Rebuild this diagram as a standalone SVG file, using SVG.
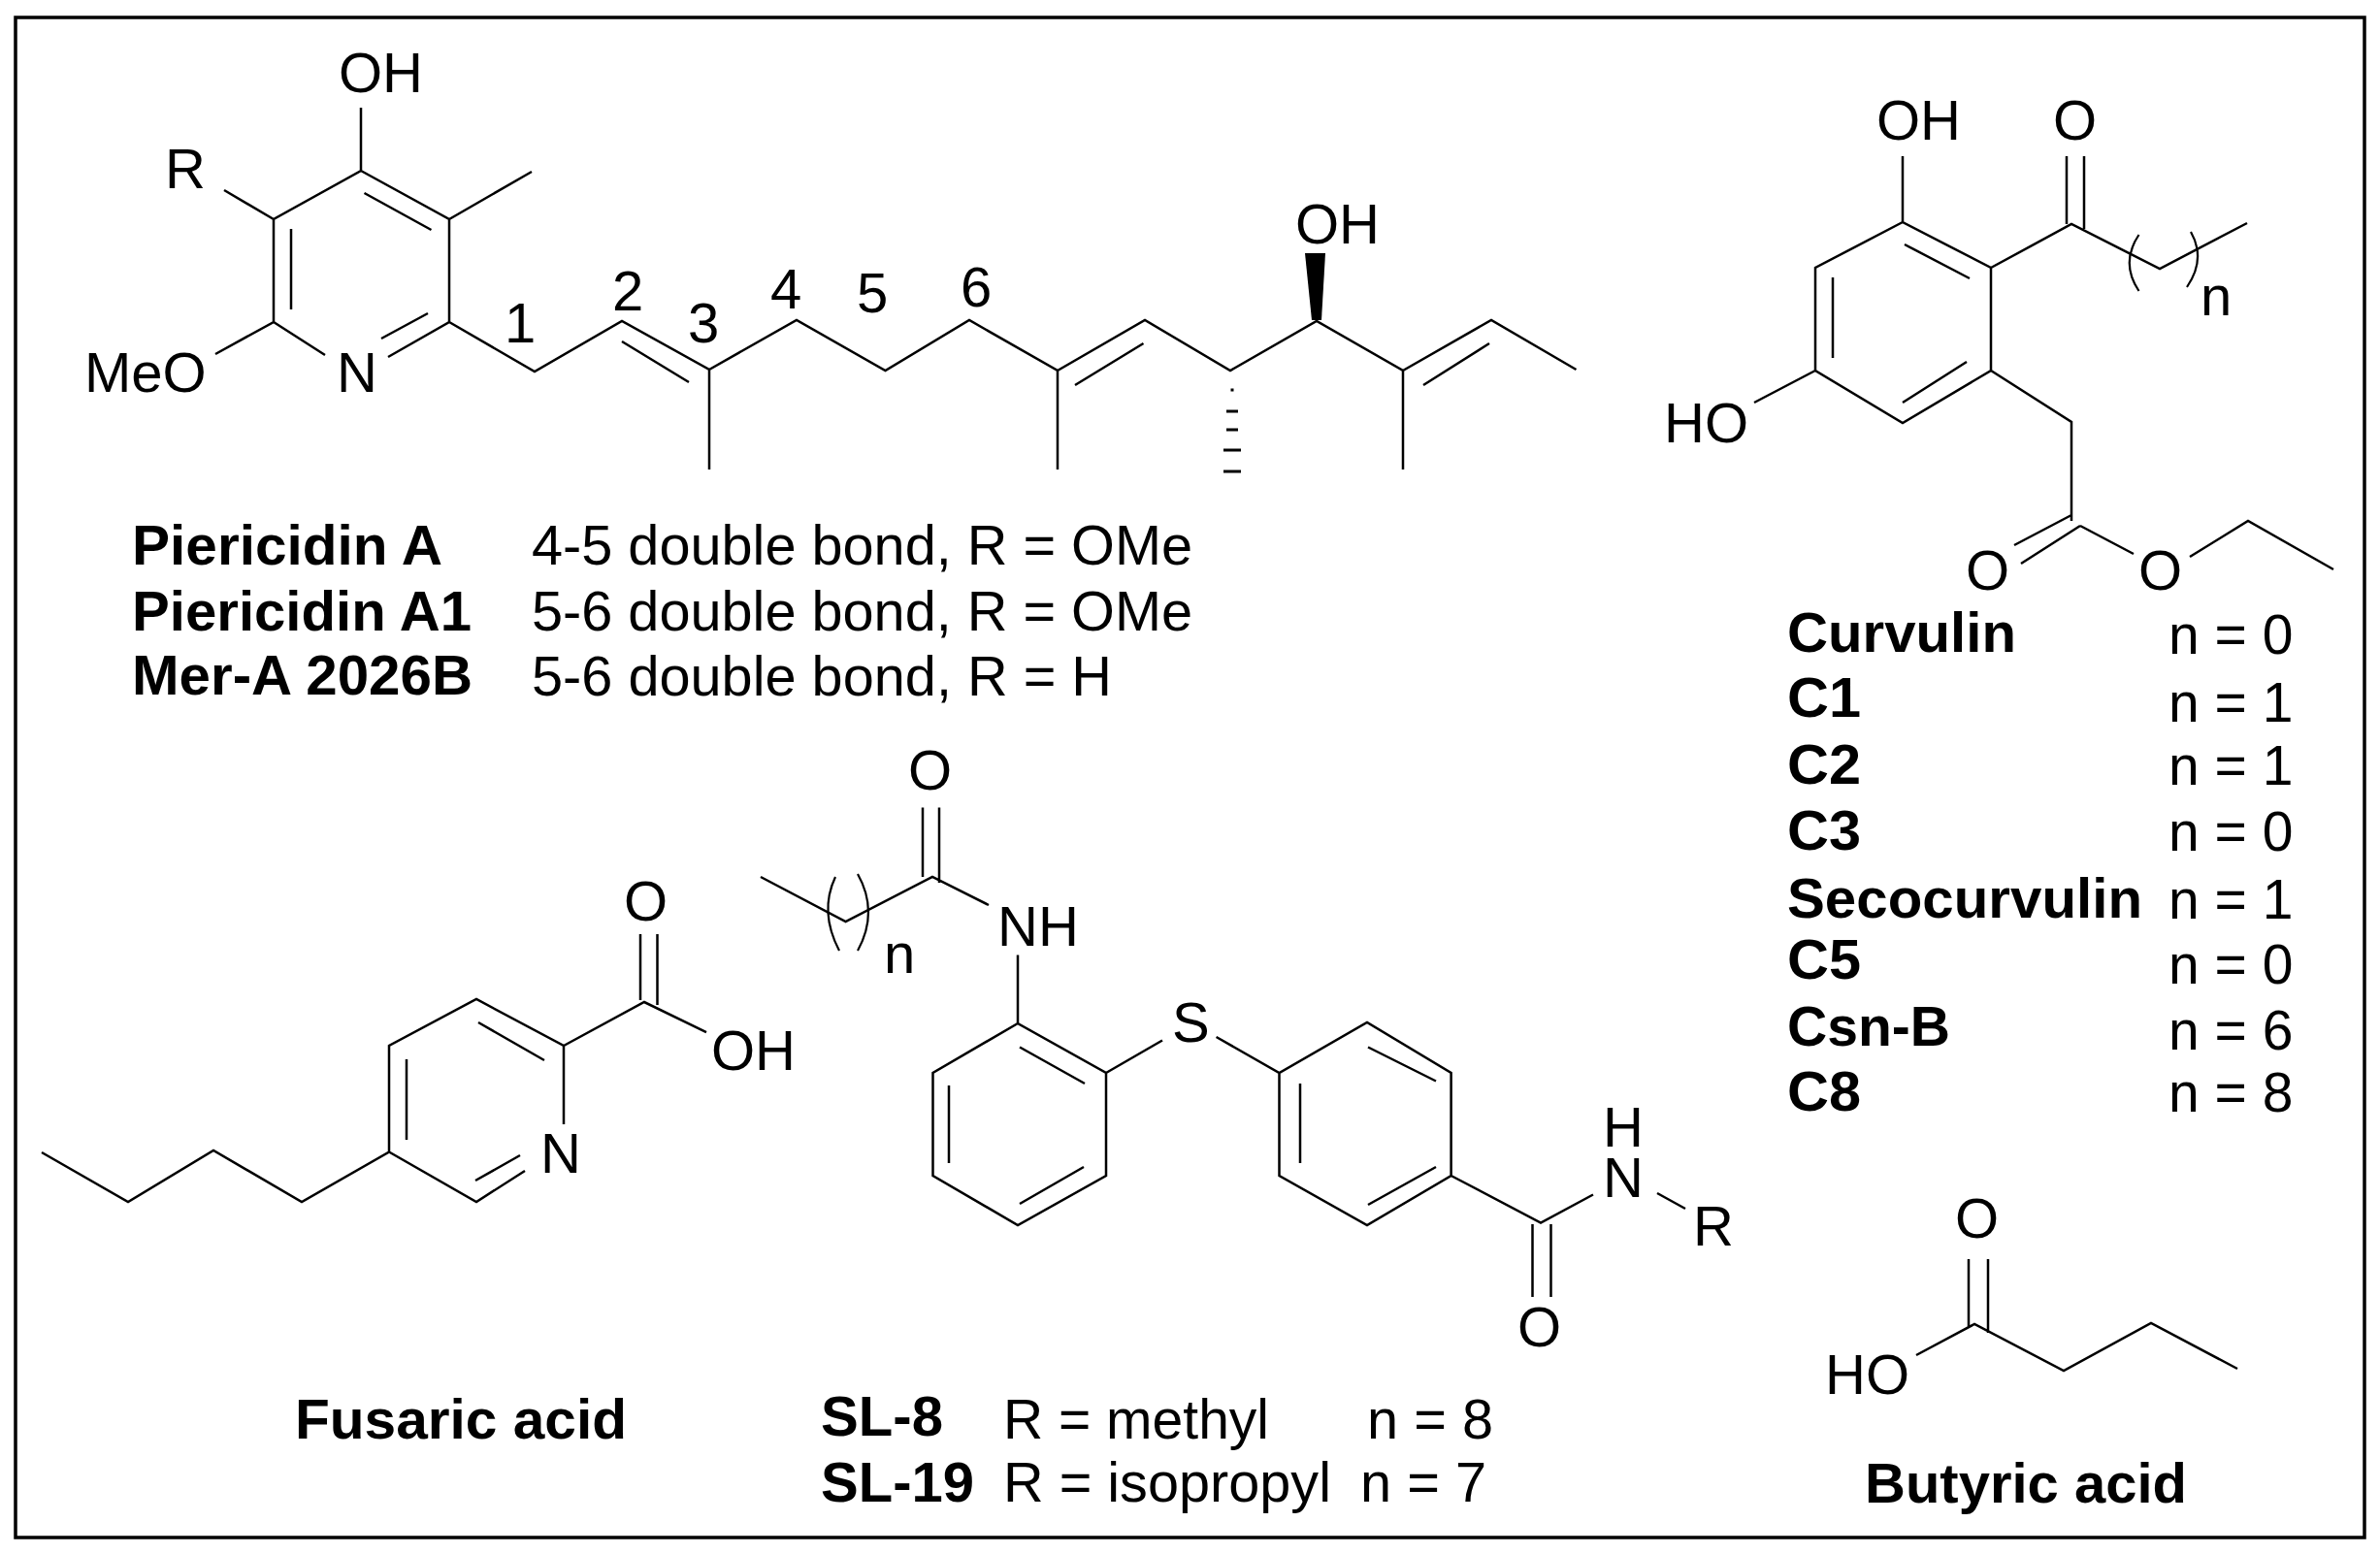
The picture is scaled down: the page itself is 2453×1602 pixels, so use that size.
<svg xmlns="http://www.w3.org/2000/svg" width="2453" height="1602" viewBox="0 0 2453 1602">
<style>
text{font-family:"Liberation Sans",Arial,sans-serif;font-size:58px;fill:#000}
.b{font-weight:bold;font-size:57px}
.c{font-size:57px}
.bond{fill:none;stroke:#000;stroke-width:2.5;stroke-linejoin:miter}
.hash{fill:none;stroke:#000;stroke-width:3.2}
.arc{fill:none;stroke:#000;stroke-width:2.2}
.frame{fill:#fff;stroke:#000;stroke-width:3.5}
</style>
<rect class="frame" x="16" y="18" width="2421" height="1567"/>
<g id="piericidin">
<g id="piericidin-bonds">
<path class="bond" d="M372 111V176L282 226V332L222 365M282 332L335 366M372 176L463 226V332L400 368M463 226L548 177M231 196L282 226M375.500 199L444.500 237M300 236V319M441 323L393 349M463 332L551 383L641 331L731 381V484M641 352L710 394M731 381L821 330L912.500 382L999 330L1090 382V484M1090 382L1180 330L1268 382L1357 331L1446 382V484M1446 382L1537 330L1624.500 381M1108 397L1178.500 354M1467 397L1535 354"/>
<path d="M1345 261H1366L1362 330H1352Z" fill="#000"/>
<path class="hash" d="M1268.500 402H1271.500M1264 424H1276M1264 443H1276M1261 464H1279M1261 486H1279"/>
</g>
<text x="349" y="95">OH</text>
<text x="170" y="194">R</text>
<text x="87" y="404">MeO</text>
<text x="347" y="404">N</text>
<text x="1335" y="251">OH</text>
<text x="520" y="353">1</text>
<text x="631" y="320">2</text>
<text x="709" y="353">3</text>
<text x="794" y="318">4</text>
<text x="883" y="322">5</text>
<text x="990" y="316">6</text>
<text class="b" x="136" y="582" textLength="320" lengthAdjust="spacingAndGlyphs">Piericidin A</text>
<text class="b" x="136" y="650" textLength="350" lengthAdjust="spacingAndGlyphs">Piericidin A1</text>
<text class="b" x="136" y="716" textLength="351" lengthAdjust="spacingAndGlyphs">Mer-A 2026B</text>
<text class="c" x="548" y="582" textLength="681" lengthAdjust="spacingAndGlyphs">4-5 double bond, R = OMe</text>
<text class="c" x="548" y="650" textLength="681" lengthAdjust="spacingAndGlyphs">5-6 double bond, R = OMe</text>
<text class="c" x="548" y="717" textLength="598" lengthAdjust="spacingAndGlyphs">5-6 double bond, R = H</text>
</g>
<g id="curvulin">
<g id="curvulin-bonds">
<path class="bond" d="M1961 161V229L2052 276V382L1961 436L1871 382V276L1961 229M1963 252L2030 287M1889 286V369M1961 415L2027 373M1871 382L1808 415M2052 276L2135 231L2226 277L2316 230M2130 161V231M2148 161V236M2052 382L2135 435V537M2135 531L2076 562M2144 542L2083 581M2144 542L2199 571M2257 574L2317 537L2405 587"/>
<path class="arc" d="M2204.500 242Q2185 271 2204.500 300M2258 239Q2274 267 2254 296"/>
</g>
<text x="1934" y="144">OH</text>
<text x="2116" y="144">O</text>
<text x="1715" y="456">HO</text>
<text x="2026" y="608">O</text>
<text x="2204" y="608">O</text>
<text x="2268" y="325">n</text>
<text class="b" x="1842" y="672" textLength="236" lengthAdjust="spacingAndGlyphs">Curvulin</text>
<text class="b" x="1842" y="739" textLength="76" lengthAdjust="spacingAndGlyphs">C1</text>
<text class="b" x="1842" y="808" textLength="76" lengthAdjust="spacingAndGlyphs">C2</text>
<text class="b" x="1842" y="876" textLength="76" lengthAdjust="spacingAndGlyphs">C3</text>
<text class="b" x="1842" y="946" textLength="366" lengthAdjust="spacingAndGlyphs">Secocurvulin</text>
<text class="b" x="1842" y="1009" textLength="76" lengthAdjust="spacingAndGlyphs">C5</text>
<text class="b" x="1842" y="1078" textLength="168" lengthAdjust="spacingAndGlyphs">Csn-B</text>
<text class="b" x="1842" y="1145" textLength="76" lengthAdjust="spacingAndGlyphs">C8</text>
<text class="c" x="2235" y="674">n = 0</text>
<text class="c" x="2235" y="744">n = 1</text>
<text class="c" x="2235" y="809">n = 1</text>
<text class="c" x="2235" y="877">n = 0</text>
<text class="c" x="2235" y="947">n = 1</text>
<text class="c" x="2235" y="1014">n = 0</text>
<text class="c" x="2235" y="1082">n = 6</text>
<text class="c" x="2235" y="1146">n = 8</text>
</g>
<g id="fusaric-acid">
<path class="bond" d="M43 1188L132 1239L220 1186L311 1239L401 1187.500V1078L491 1030L581 1078V1159M401 1187.500L491 1239L541 1207M419 1092V1175M493 1054L561 1093M490 1217L536 1191M581 1078L664 1033L728 1064M660 963V1031M677.500 963V1036"/>
<text x="557" y="1209">N</text>
<text x="643" y="949">O</text>
<text x="733" y="1103">OH</text>
<text class="b" x="304" y="1483" textLength="342" lengthAdjust="spacingAndGlyphs">Fusaric acid</text>
</g>
<g id="sl-compounds">
<path class="bond" d="M784 904L871.600 950L961 904L1019 933M951 832.500V904M968 832.500V910M1049 984.500V1055L1140 1106V1212L1049 1263L961.500 1212V1106L1049 1055M1051 1079.500L1118 1117M978 1119V1199M1051 1241L1117 1203M1140 1106L1198 1072.500M1253.600 1069L1318.500 1106L1409 1054L1495.600 1106V1212L1409 1263L1318.500 1212V1106M1410 1079.500L1480 1114.500M1340 1117V1199M1410 1242L1480 1203M1495.600 1212L1588 1260.500L1642 1231.500M1579.500 1262V1337M1598.500 1262V1337M1708 1230L1737 1246"/>
<path class="arc" d="M861 904Q844 940 865 980M884 901Q906 940 884 980"/>
<text x="936" y="814">O</text>
<text x="1028" y="975">NH</text>
<text x="911" y="1003">n</text>
<text x="1208" y="1074">S</text>
<text x="1564" y="1388">O</text>
<text x="1652" y="1182">H</text>
<text x="1652" y="1234">N</text>
<text x="1745" y="1284">R</text>
<text class="b" x="846" y="1480" textLength="126" lengthAdjust="spacingAndGlyphs">SL-8</text>
<text class="c" x="1034" y="1483" textLength="274" lengthAdjust="spacingAndGlyphs">R = methyl</text>
<text class="c" x="1409" y="1483" textLength="130" lengthAdjust="spacingAndGlyphs">n = 8</text>
<text class="b" x="846" y="1548" textLength="158" lengthAdjust="spacingAndGlyphs">SL-19</text>
<text class="c" x="1034" y="1548" textLength="338" lengthAdjust="spacingAndGlyphs">R = isopropyl</text>
<text class="c" x="1402" y="1548" textLength="130" lengthAdjust="spacingAndGlyphs">n = 7</text>
</g>
<g id="butyric-acid">
<path class="bond" d="M1975 1397L2035 1365L2127 1413L2217 1364L2306 1411M2029 1298V1368M2049 1298V1374"/>
<text x="2015" y="1276">O</text>
<text x="1881" y="1437">HO</text>
<text class="b" x="1922" y="1549" textLength="332" lengthAdjust="spacingAndGlyphs">Butyric acid</text>
</g>
</svg>
